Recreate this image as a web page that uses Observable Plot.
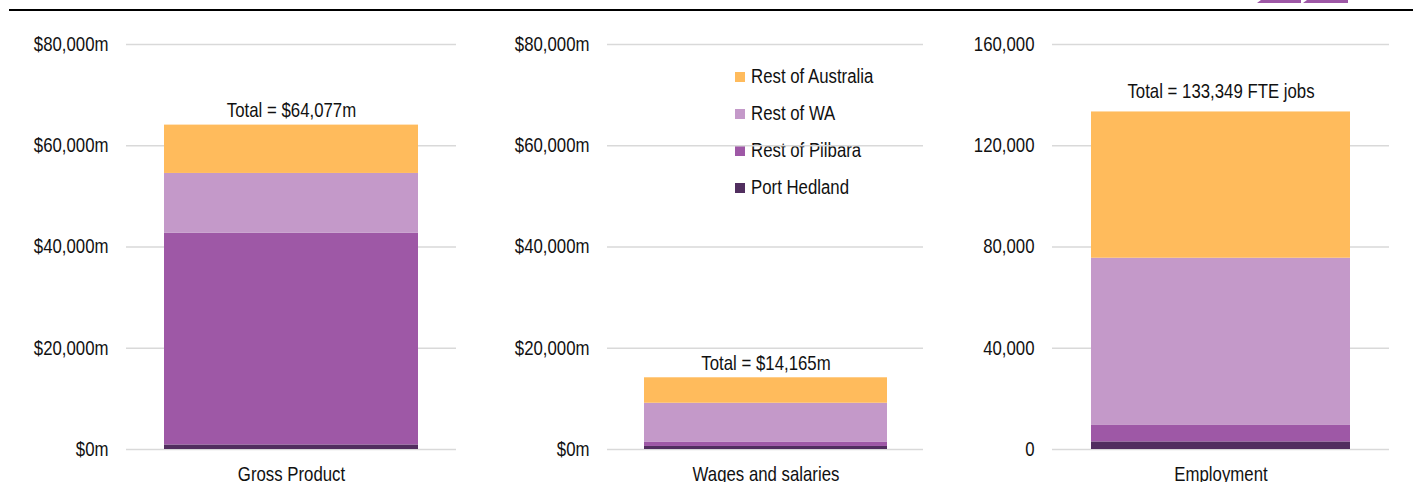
<!DOCTYPE html>
<html><head><meta charset="utf-8">
<script src="https://cdn.jsdelivr.net/npm/d3@7"></script>
<script src="https://cdn.jsdelivr.net/npm/@observablehq/plot@0.6"></script>
<style>
body{margin:0;background:#fff;}
#wrap{position:relative;width:1413px;height:482px;overflow:hidden;font-family:"Liberation Sans Narrow","Arial Narrow","Liberation Sans",Arial,sans-serif;color:#111;}
.topline{position:absolute;left:9px;top:9px;width:1404px;height:2px;background:#000;}
.panel{position:absolute;top:0;}
#legend{position:absolute;left:735px;top:58px;font-size:20px;}
#legend .row{display:flex;align-items:center;height:37px;}
#legend .sw{width:10px;height:10px;margin-right:6px;flex:none;}
#legend span{display:inline-block;transform:scaleX(0.84);transform-origin:left center;white-space:nowrap;}
#logo{position:absolute;left:0;top:0;}
</style></head>
<body>
<div id="wrap">
  <svg id="logo" width="1413" height="12"><polygon points="1257,3 1261,0 1301,0 1301,3" fill="#9e58a6"/><polygon points="1303,3 1307,0 1348,0 1348,3" fill="#9e58a6"/></svg>
  <div class="topline"></div>
  <div id="legend"></div>
</div>
<script>
const categories = ["Gross Product", "Wages and salaries", "Employment"];
const series = ["Port Hedland", "Rest of Pilbara", "Rest of WA", "Rest of Australia"];
const colors = ["#512e5f", "#9e58a6", "#c499c9", "#ffbb5c"];
const grossProduct = [900, 41800, 11830, 9547];
const wagesSalaries = [600, 800, 7740, 5025];
const employment = [3000, 6500, 66070, 57779];
const totals = [64077, 14165, 133349];
const totalLabels = ["Total = $64,077m", "Total = $14,165m", "Total = 133,349 FTE jobs"];
const dollarTicks = [0, 20000, 40000, 60000, 80000];
const jobTicks = [0, 40000, 80000, 120000, 160000];

const font = '"Liberation Sans Narrow","Arial Narrow","Liberation Sans",Arial,sans-serif';
const fmtDollar = d => "$" + d3.format(",")(d) + "m";
const fmtJobs = d => d3.format(",")(d);
const narrow = 0.84;

function condense(svg) {
  svg.querySelectorAll("text").forEach(t => {
    const tr = t.getAttribute("transform") || "";
    const g = document.createElementNS("http://www.w3.org/2000/svg", "g");
    g.setAttribute("transform", tr);
    t.parentNode.insertBefore(g, t);
    g.appendChild(t);
    t.setAttribute("transform", `scale(${narrow},1)`);
  });
}

function panel(i, values, ticks, fmt, left, width, ml, mr, labelDy) {
  const cat = categories[i];
  const data = series.map((s, j) => ({category: cat, series: s, value: values[j]}));
  const p = Plot.plot({
    width, height: 482,
    marginTop: 44, marginBottom: 33, marginLeft: ml, marginRight: mr,
    style: {fontFamily: font, fontSize: "20px", color: "#111", background: "transparent", overflow: "visible"},
    x: {domain: [cat], padding: 0.13, label: null, tickSize: 0, tickPadding: 17},
    y: {domain: [ticks[0], ticks[ticks.length - 1]], ticks, tickFormat: fmt, label: null, tickSize: 0, tickPadding: 18},
    color: {domain: series, range: colors},
    marks: [
      Plot.gridY(ticks, {stroke: "#d9d9d9", strokeOpacity: 1, strokeWidth: 1.5}),
      Plot.barY(data, {x: "category", y: "value", fill: "series", order: series}),
      Plot.text([{category: cat, total: totals[i], label: totalLabels[i]}],
        {x: "category", y: "total", text: "label", lineAnchor: "bottom", dy: labelDy, fontSize: 20, fill: "#111"})
    ]
  });
  condense(p);
  p.classList.add("panel");
  p.style.left = left + "px";
  document.getElementById("wrap").appendChild(p);
}

panel(0, grossProduct, dollarTicks, fmtDollar, 0, 470, 126, 14, -8);
panel(1, wagesSalaries, dollarTicks, fmtDollar, 470, 470, 137, 17, -8);
panel(2, employment, jobTicks, fmtJobs, 940, 473, 112, 24, -14);

const leg = document.getElementById("legend");
series.slice().reverse().forEach(s => {
  const row = document.createElement("div");
  row.className = "row";
  const sw = document.createElement("div");
  sw.className = "sw";
  sw.style.background = colors[series.indexOf(s)];
  const t = document.createElement("span");
  t.textContent = s;
  row.appendChild(sw); row.appendChild(t);
  leg.appendChild(row);
});
</script>
</body></html>
